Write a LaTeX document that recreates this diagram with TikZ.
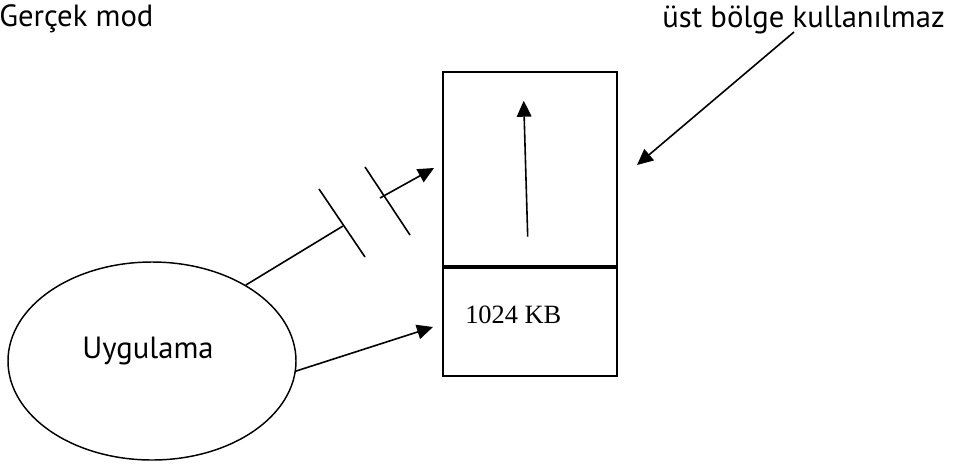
\documentclass[tikz,border=0pt]{standalone}
\usepackage{fontspec}
\setmainfont{PT Sans}
\newfontfamily\timesfont{Liberation Serif}
\usetikzlibrary{arrows.meta,positioning,shapes.geometric}

\begin{document}
\begin{tikzpicture}[x=0.75pt,y=-0.75pt,>={Triangle[length=12pt,width=11pt]},
  cell/.style={draw,line width=1.4pt,minimum width=130.5pt,inner sep=0pt},
  lbl/.style={font=\fontsize{23}{27}\selectfont,inner sep=0pt},
  link/.style={line width=1.2pt}]
\useasboundingbox (0,0) rectangle (954,465);
% memory box
\node[cell,minimum height=145.5pt,anchor=north west] (upper) at (442,71) {};
\node[cell,minimum height=81pt,anchor=north] (lower) at (upper.south) {};
\node[lbl,anchor=base west,font=\timesfont\fontsize{19.8}{23}\selectfont] (kb) at (465,323) {1024 KB};
% application
\node[ellipse,draw,line width=1.1pt,minimum width=216pt,minimum height=148.5pt] (app) at (152,361) {};
\node[lbl,anchor=base] (applbl) at (148,358) {Uygulama};
% titles
\node[lbl,anchor=base west] (mode) at (-1,26) {Gerçek mod};
\node[lbl,anchor=base east] (unused) at (945,27) {üst bölge kullanılmaz};
% free ends
\coordinate (tipA) at (434,168);
\coordinate (tipB) at (433,327);
\coordinate (cutA) at (343,226);
\coordinate (cutB) at (380,198);
\coordinate (growS) at (527.7,236.7);
\coordinate (growE) at (523.7,100.7);
\coordinate (noteS) at (794,32);
\coordinate (noteE) at (637,165);
% connectors
\draw[link] (app.39) -- (cutA);
\draw[link,->] (cutB) -- (tipA);
\draw[link] (319,189) -- (365,257);
\draw[link] (365,167) -- (410,235);
\draw[link,->] (app.-4) -- (tipB);
\draw[link,->] (growS) -- (growE);
\draw[link,->] (noteS) -- (noteE);
\end{tikzpicture}
\end{document}
